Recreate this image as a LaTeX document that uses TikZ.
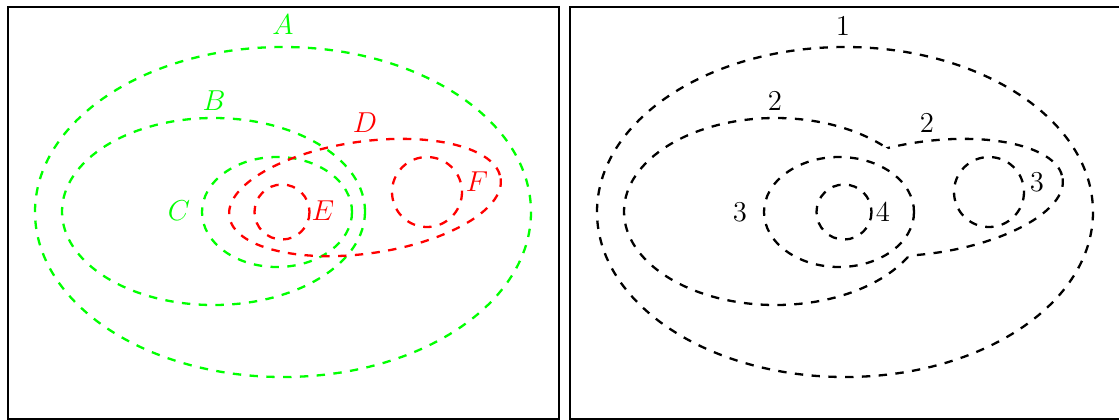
\documentclass[tikz,border=0pt]{standalone}
\begin{document}
\begin{tikzpicture}[x=0.5pt,y=-0.5pt,
  frame/.style={line width=1pt},
  contour/.style={line width=1.15pt,dash pattern=on 4.2pt off 4.2pt},
  lab/.style={inner sep=0pt,font=\fontsize{14.4}{17}\selectfont}]
\useasboundingbox (0,0) rectangle (1119,419);
% frames
\node[draw,frame,inner sep=0pt,minimum width=275.5pt,minimum height=206pt,anchor=north west] (fl) at (7,6) {};
\node[draw,frame,inner sep=0pt,minimum width=276pt,minimum height=206pt,anchor=north west] (fr) at (569,6) {};
% ---------------- left panel
\begin{scope}[contour]
  \draw[green] (283,212) ellipse [x radius=248, y radius=165];
  \draw[green] (213.5,211.5) ellipse [x radius=151.5, y radius=93.5];
  \draw[green] (277,212) ellipse [x radius=75, y radius=55];
  \draw[red,rotate around={8:(365,197.5)}] (365,197.5) ellipse [x radius=137, y radius=56];
  \draw[red] (282,212) circle [radius=27.5];
  \draw[red] (427,192) circle [radius=35];
\end{scope}
\node[lab,text=green] (la) at (283,25) {$A$};
\node[lab,text=green] (lb) at (214,101) {$B$};
\node[lab,text=green] (lc) at (179,211) {$C$};
\node[lab,text=red] (ld) at (365,123) {$D$};
\node[lab,text=red] (le) at (323,211) {$E$};
\node[lab,text=red] (lf) at (477,182) {$F$};
% ---------------- right panel
\begin{scope}[shift={(562,0)},contour]
  \draw (283,212) ellipse [x radius=248, y radius=165];
  \begin{scope}[even odd rule]
    \clip[rotate around={8:(365,197.5)}] (-600,-600) rectangle (1300,1000) (365,197.5) ellipse [x radius=137, y radius=56];
    \draw (213.5,211.5) ellipse [x radius=151.5, y radius=93.5];
  \end{scope}
  \begin{scope}[even odd rule]
    \clip (-600,-600) rectangle (1300,1000) (213.5,211.5) ellipse [x radius=151.5, y radius=93.5];
    \draw[rotate around={8:(365,197.5)}] (365,197.5) ellipse [x radius=137, y radius=56];
  \end{scope}
  \draw (277,212) ellipse [x radius=75, y radius=55];
  \draw (282,212) circle [radius=27.5];
  \draw (427,192) circle [radius=35];
\end{scope}
\node[lab] (n1) at (843,26) {1};
\node[lab] (n2a) at (775,101) {2};
\node[lab] (n2b) at (927,123) {2};
\node[lab] (n3a) at (740,212) {3};
\node[lab] (n4) at (883,212) {4};
\node[lab] (n3b) at (1037,182) {3};
\end{tikzpicture}
\end{document}
